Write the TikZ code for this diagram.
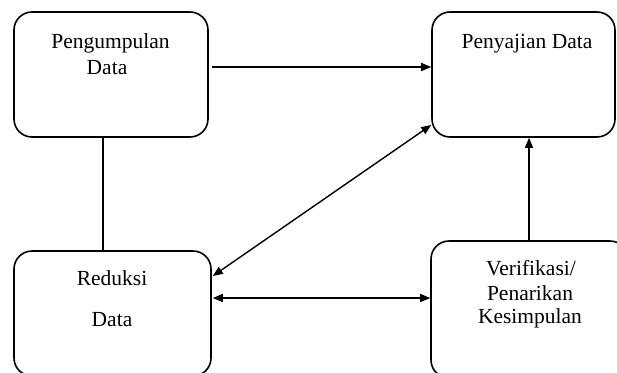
\documentclass[tikz,border=0pt]{standalone}
\usepackage{fontspec}
\setmainfont{Liberation Serif}
\usetikzlibrary{arrows.meta}
\tikzset{
  box/.style={draw=black, line width=1.6pt, rounded corners=18pt, inner sep=0pt},
  lbl/.style={font=\fontsize{21.5}{24}\selectfont, anchor=base, inner sep=0pt},
  conn/.style={draw=black, line width=1.4pt},
  tip/.style={-{Triangle[length=10pt,width=8pt]}},
  tips/.style={{Triangle[length=10pt,width=8pt]}-{Triangle[length=10pt,width=8pt]}}
}
\begin{document}
\begin{tikzpicture}[x=1pt,y=-1pt]
\useasboundingbox (0,0) rectangle (617,372);
\clip (0,0) rectangle (617,372);
\fill[white] (0,0) rectangle (617,372);
% boxes
\node[box, minimum width=194pt, minimum height=125pt] (b1) at (111,74.5) {};
\node[box, minimum width=183pt, minimum height=125pt] (b2) at (523.5,74.5) {};
\node[box, minimum width=197pt, minimum height=125pt] (b3) at (112.5,313.5) {};
\node[box, minimum width=197pt, minimum height=137pt] (b4) at (529.5,309.5) {};
% labels
\node[lbl] (t1a) at (110.5,48) {Pengumpulan};
\node[lbl] (t1b) at (107,74) {Data};
\node[lbl] (t2) at (527,48) {Penyajian Data};
\node[lbl] (t3a) at (112,285) {Reduksi};
\node[lbl] (t3b) at (112,326) {Data};
\node[lbl] (t4a) at (531,275) {Verifikasi/};
\node[lbl] (t4b) at (530,300) {Penarikan};
\node[lbl] (t4c) at (530,323) {Kesimpulan};
% connectors
\draw[conn, tip] ([xshift=3pt,yshift=7.5pt]b1.east) -- ([yshift=7.5pt]b2.west);
\draw[conn] ([xshift=-8pt]b1.south) -- ([xshift=-8pt]b1.south |- b3.north);
\draw[conn, tips] ([xshift=1pt,yshift=37.5pt]b3.east) -- ([yshift=-50.5pt]b2.west);
\draw[conn, tips] ([xshift=1pt,yshift=15.5pt]b3.east) -- ([yshift=15.5pt]b3.east -| b4.west);
\draw[conn, tip] ([xshift=-0.5pt]b4.north) -- ([xshift=-0.5pt]b4.north |- b2.south);
\end{tikzpicture}
\end{document}
